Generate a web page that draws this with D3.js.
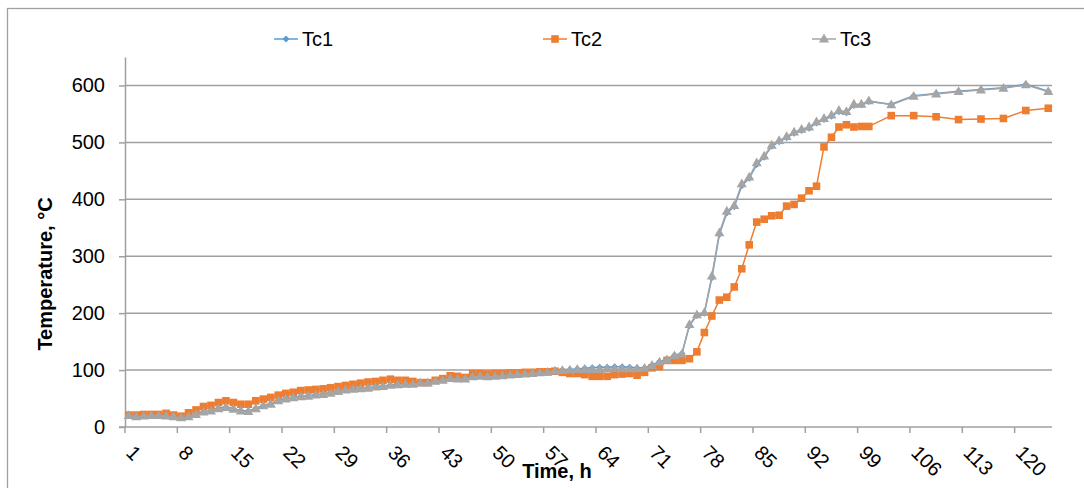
<!DOCTYPE html>
<html><head><meta charset="utf-8">
<script src="https://cdnjs.cloudflare.com/ajax/libs/d3/7.8.5/d3.min.js"></script>
<style>
html,body{margin:0;padding:0;background:#fff;}
svg{display:block;}
text{font-family:"Liberation Sans",Arial,sans-serif;}
</style></head>
<body>
<svg id="chart" width="1084" height="488"></svg>
<script>
const hours = [1,2,3,4,5,6,7,8,9,10,11,12,13,14,15,16,17,18,19,20,
21,22,23,24,25,26,27,28,29,30,31,32,33,34,35,36,37,38,39,40,
41,42,43,44,45,46,47,48,49,50,51,52,53,54,55,56,57,58,59,60,
61,62,63,64,65,66,67,68,69,70,71,72,73,74,75,76,77,78,79,80,
81,82,83,84,85,86,87,88,89,90,91,92,93,94,95,96,97,98,99,100,
103,106,109,112,115,118,121,124];
const categories = [];
for (let i = 1; i <= 124; i++) categories.push(i);
const xTickLabels = [1,8,15,22,29,36,43,50,57,64,71,78,85,92,99,106,113,120];
const yTicks = [0,100,200,300,400,500,600];

const tc1 = [21,19,20,20,21,20,19,17,19,23, 27,29,33,35,32,29,28,33,38,41,
47,50,52,54,55,57,58,60,63,66, 67,68,69,71,72,74,75,76,76,78,
78,81,83,86,85,85,89,90,89,90, 91,92,93,94,95,96,97,99,100,101,
102,103,104,105,105,106,106,105,104,104, 109,115,119,126,129,178,196,200,262,338,
376,387,424,437,461,474,493,501,508,516, 521,525,534,540,546,554,552,565,566,572,
567,582,586,590,593,596,602,590];
const tc2 = [21,21,22,22,22,24,21,19,25,30, 36,38,43,46,43,40,40,46,49,52,
56,59,61,64,65,66,67,69,71,73, 75,77,79,80,82,84,82,82,80,78,
78,82,85,90,89,87,94,94,93,94, 94,95,95,96,96,97,97,98,96,94,
94,92,89,89,89,92,93,94,91,96, 104,106,117,117,117,120,132,166,195,223,
228,246,278,320,360,365,371,372,388,391, 402,415,423,492,509,527,531,527,528,528,
547,547,545,540,541,542,556,560];
const tc3 = [20,18,19,20,20,19,18,16,18,22, 26,28,32,34,31,28,27,32,37,40,
46,49,51,53,54,56,57,59,62,65, 66,67,68,70,71,73,74,75,75,77,
77,80,82,85,84,84,88,89,88,89, 90,91,92,93,94,95,96,98,99,100,
101,101,101,101,102,102,102,102,102,103, 108,114,118,125,128,180,197,201,265,341,
379,389,427,439,464,476,495,503,510,518, 523,527,536,542,548,556,554,567,567,573,
566,581,585,589,592,595,601,589];

const seriesNames = ["Tc1","Tc2","Tc3"];
const seriesColors = ["#5B9BD5","#ED7D31","#A5A5A5"];
const seriesValues = [tc1, tc2, tc3];

const svg = d3.select("#chart");
const W = 1084, H = 488;
const plot = {left:125, right:1052, top:57, bottom:427};

svg.append("rect").attr("x",0).attr("y",0).attr("width",W).attr("height",H).attr("fill","#fff");
svg.append("rect").attr("x",7.5).attr("y",8.5).attr("width",1200).attr("height",600)
  .attr("fill","none").attr("stroke","#a0a0a0").attr("stroke-width",1.3);

const x = d3.scaleBand().domain(categories).range([plot.left, plot.right]).padding(0);
const bw = x.bandwidth();
const cx = c => x(c) + bw/2;
const y = d3.scaleLinear().domain([0,650]).range([plot.bottom, plot.top]);

// gridlines
svg.append("g").selectAll("line").data(yTicks.filter(d=>d>0)).join("line")
  .attr("x1",plot.left).attr("x2",plot.right)
  .attr("y1",d=>y(d)).attr("y2",d=>y(d))
  .attr("stroke","#a0a0a0").attr("stroke-width",1.5);

// y axis
const yAxis = d3.axisLeft(y).tickValues(yTicks).tickSize(6).tickPadding(14).tickSizeOuter(0);
const gy = svg.append("g").attr("transform",`translate(${plot.left},0)`).call(yAxis);
gy.select(".domain").attr("stroke","#a0a0a0").attr("stroke-width",1.5);
gy.selectAll(".tick line").attr("stroke","#a0a0a0").attr("stroke-width",1.5);
gy.selectAll(".tick text").attr("font-size",20).attr("fill","#000")
  .attr("font-family","Liberation Sans, Arial, sans-serif");

// x axis
const gx = svg.append("g");
gx.append("line").attr("x1",plot.left-6).attr("x2",plot.right)
  .attr("y1",y(0)).attr("y2",y(0)).attr("stroke","#a0a0a0").attr("stroke-width",1.5);
gx.selectAll("line.tk").data(xTickLabels).join("line").attr("class","tk")
  .attr("x1",d=>x(d)).attr("x2",d=>x(d))
  .attr("y1",y(0)).attr("y2",y(0)+6).attr("stroke","#a0a0a0").attr("stroke-width",1.5);
gx.selectAll("text").data(xTickLabels).join("text")
  .attr("transform",d=>`translate(${x(d)},${y(0)+27}) rotate(45)`)
  .attr("text-anchor","start").attr("font-size",20).attr("fill","#000")
  .text(d=>d);

// axis titles
svg.append("text").attr("transform","translate(52,274) rotate(-90)")
  .attr("text-anchor","middle").attr("font-size",20).attr("font-weight","bold").attr("fill","#000")
  .text("Temperature, °C");
svg.append("text").attr("x",557).attr("y",478)
  .attr("text-anchor","middle").attr("font-size",20).attr("font-weight","bold").attr("fill","#000")
  .text("Time, h");

// markers
const markerPath = [
  "M0,-3.5L3.5,0L0,3.5L-3.5,0Z",
  "M-3.8,-3.8L3.8,-3.8L3.8,3.8L-3.8,3.8Z",
  "M0,-5.4L5,3.4L-5,3.4Z"
];

const line = d3.line().x((d,i)=>cx(hours[i])).y(d=>y(d));
seriesValues.forEach((vals,si)=>{
  const g = svg.append("g");
  g.append("path").datum(vals).attr("d",line).attr("fill","none")
    .attr("stroke",seriesColors[si]).attr("stroke-width",1.5).attr("stroke-linejoin","round");
  g.selectAll("path.m").data(vals).join("path").attr("class","m")
    .attr("d",markerPath[si])
    .attr("transform",(d,i)=>`translate(${cx(hours[i])},${y(d)})`)
    .attr("fill",seriesColors[si]);
});

// legend
const legendX = [302, 571, 840];
const lg = svg.append("g");
seriesNames.forEach((n,i)=>{
  const tx = legendX[i];
  lg.append("line").attr("x1",tx-28).attr("x2",tx-4).attr("y1",39).attr("y2",39)
    .attr("stroke",seriesColors[i]).attr("stroke-width",1.5);
  lg.append("path").attr("d",markerPath[i]).attr("transform",`translate(${tx-16},39)`)
    .attr("fill",seriesColors[i]);
  lg.append("text").attr("x",tx).attr("y",46).attr("font-size",20).attr("fill","#000").text(n);
});
</script>
</body></html>
